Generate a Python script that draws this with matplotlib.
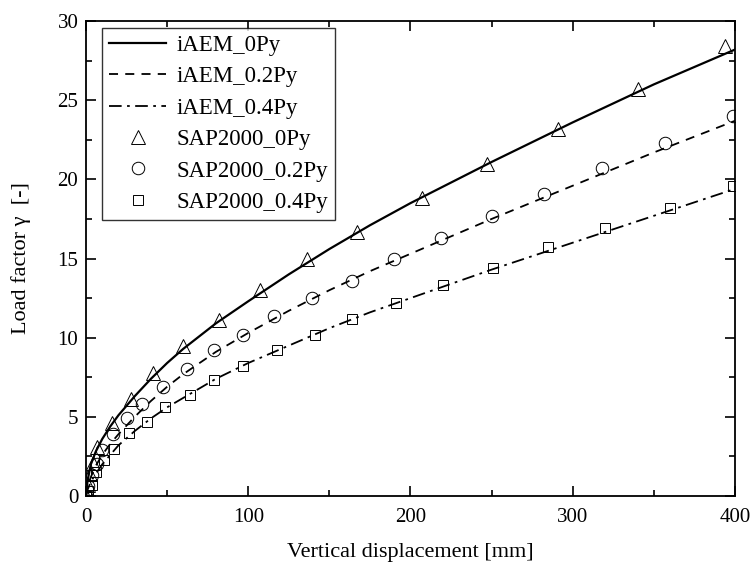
import numpy as np
import matplotlib
matplotlib.use("Agg")
import matplotlib.pyplot as plt
from matplotlib.ticker import MultipleLocator

plt.rcParams['font.family'] = ['Liberation Serif', 'DejaVu Serif']

#--- iAEM curves
line_x = [0, 1, 3, 6, 10, 15, 20, 30, 40, 50, 60, 80, 100, 125, 150, 175, 200, 250, 300, 350, 400]
iaem_0 = [0, 1.0, 2.0, 2.8, 3.6, 4.4, 5.1, 6.3, 7.4, 8.4, 9.3, 10.9, 12.3, 14.0, 15.6, 17.1, 18.5, 21.1, 23.6, 26.0, 28.2]
iaem_02 = [0, 0.6, 1.2, 1.9, 2.6, 3.3, 3.9, 5.0, 6.0, 6.9, 7.7, 9.1, 10.3, 11.7, 13.0, 14.2, 15.3, 17.5, 19.6, 21.7, 23.7]
iaem_04 = [0, 0.4, 0.9, 1.4, 2.0, 2.6, 3.2, 4.1, 4.9, 5.6, 6.2, 7.4, 8.4, 9.5, 10.6, 11.6, 12.5, 14.3, 16.0, 17.7, 19.4]

#--- SAP2000 points
sap0_x = [0, 1, 2.5, 4.3, 7, 16, 28, 41, 60, 82, 107, 136, 167, 207, 247, 291, 340, 394]
sap0_y = [0, 0.7, 1.4, 2.1, 3.1, 4.6, 6.1, 7.8, 9.5, 11.1, 13.0, 15.0, 16.7, 18.8, 21.0, 23.2, 25.7, 28.4]
sap02_x = [0, 1.5, 3.5, 6.5, 10, 16.5, 25, 34.5, 47.5, 62, 79, 97, 116, 139, 164, 190, 219, 250, 282, 318, 357, 399]
sap02_y = [0, 0.6, 1.3, 2.0, 2.9, 3.9, 4.9, 5.8, 6.9, 8.0, 9.2, 10.2, 11.4, 12.5, 13.6, 15.0, 16.3, 17.7, 19.1, 20.7, 22.3, 24.0]
sap04_x = [0, 1.5, 3.7, 6, 11, 17.3, 26.6, 37.5, 49, 64, 79, 97, 118, 141, 164, 191, 220, 251, 285, 320, 360, 399]
sap04_y = [0, 0.3, 0.7, 1.5, 2.3, 3.0, 4.0, 4.7, 5.6, 6.4, 7.3, 8.2, 9.2, 10.2, 11.2, 12.2, 13.3, 14.4, 15.7, 16.9, 18.2, 19.6]

fig = plt.figure(figsize=(7.53, 5.69), dpi=100)
ax = fig.add_axes([0.1142, 0.1283, 0.8619, 0.8347])

ax.plot(line_x, iaem_0, color="black", linewidth=1.6, linestyle="-", label="iAEM_0Py")
ax.plot(line_x, iaem_02, color="black", linewidth=1.3, linestyle=(0, (5, 4)), label="iAEM_0.2Py")
ax.plot(line_x, iaem_04, color="black", linewidth=1.3, linestyle=(0, (7, 3, 1.5, 3)), label="iAEM_0.4Py")

mk = dict(linestyle="none", markerfacecolor="none", markeredgecolor="black", markeredgewidth=0.7)
ax.plot(sap0_x, sap0_y, marker="^", markersize=10, label="SAP2000_0Py", **mk)
ax.plot(sap02_x, sap02_y, marker="o", markersize=9, label="SAP2000_0.2Py", **mk)
ax.plot(sap04_x, sap04_y, marker="s", markersize=7.5, label="SAP2000_0.4Py", **mk)

ax.set_xlim(0, 400)
ax.set_ylim(0, 30)
ax.xaxis.set_major_locator(MultipleLocator(100))
ax.xaxis.set_minor_locator(MultipleLocator(50))
ax.yaxis.set_major_locator(MultipleLocator(5))
ax.yaxis.set_minor_locator(MultipleLocator(2.5))
ax.tick_params(which="both", direction="in", top=True, right=True, labelsize=15, width=1.2)
ax.tick_params(which="major", length=7)
ax.tick_params(which="minor", length=4)
ax.tick_params(axis="x", pad=8.5)
ax.tick_params(axis="y", pad=5.5)
for s in ax.spines.values():
    s.set_linewidth(1.3)

ax.set_xlabel("Vertical displacement [mm]", fontsize=16, labelpad=12)
ax.set_ylabel("Load factor γ  [-]", fontsize=16, labelpad=19)

leg = ax.legend(loc="upper left", bbox_to_anchor=(0.0247, 0.985), borderaxespad=0,
                fontsize=16.5, frameon=True, fancybox=False, edgecolor="black",
                handlelength=2.5, handletextpad=0.45, borderpad=0.3, labelspacing=0.45)
leg.get_frame().set_linewidth(1.0)

plt.savefig("out.png", dpi=100)
